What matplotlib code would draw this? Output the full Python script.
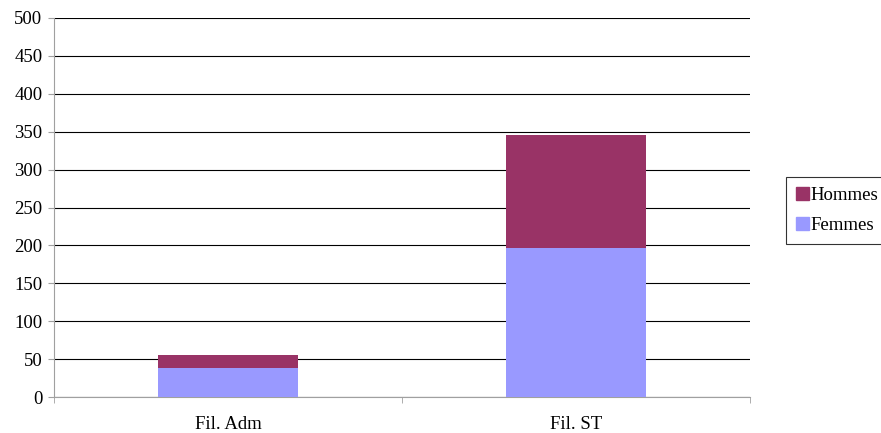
import matplotlib
matplotlib.use('Agg')
import matplotlib.pyplot as plt
import numpy as np
from matplotlib.patches import Patch

categories = ['Fil. Adm', 'Fil. ST']
femmes = [38, 197]
hommes = [17, 148]
yticks = [0, 50, 100, 150, 200, 250, 300, 350, 400, 450, 500]

plt.rcParams['font.family'] = ['Liberation Serif', 'DejaVu Serif']
fs = 13.5

fig = plt.figure(figsize=(8.81, 4.33), dpi=100)
ax = fig.add_axes([54 / 881, 1 - 397 / 433, 696 / 881, 379 / 433])

x = np.arange(len(categories))
ax.bar(x, femmes, width=0.4, color='#9999ff', zorder=3, label='Femmes')
ax.bar(x, hommes, width=0.4, bottom=femmes, color='#993366', zorder=3, label='Hommes')

ax.set_xlim(-0.5, len(categories) - 0.5)
ax.set_ylim(0, 500)
ax.set_yticks(yticks)
ax.yaxis.grid(True, color='black', linewidth=0.8, zorder=0)
ax.set_axisbelow(True)

ax.set_xticks(x)
ax.set_xticklabels(categories, fontsize=fs)
ax.tick_params(axis='x', length=0, pad=14)
ax.set_xticks(np.arange(-0.5, len(categories), 1.0), minor=True)
ax.tick_params(axis='x', which='minor', length=4.3, color='#a0a0a0')
ax.tick_params(axis='y', length=4.3, color='#a0a0a0', labelsize=fs, pad=4)

for s in ['top', 'right']:
    ax.spines[s].set_visible(False)
for s in ['left', 'bottom']:
    ax.spines[s].set_color('#a0a0a0')

handles = [Patch(color='#993366', label='Hommes'), Patch(color='#9999ff', label='Femmes')]
leg = fig.legend(handles=handles, loc='center left', bbox_to_anchor=(786 / 881, 1 - 210.5 / 433),
                 fontsize=fs, frameon=True, fancybox=False, edgecolor='black',
                 handlelength=0.65, handleheight=0.65, handletextpad=0.1, borderpad=0.55,
                 labelspacing=0.7, borderaxespad=0)
leg.get_frame().set_linewidth(0.8)

fig.savefig('out.png', dpi=100)
